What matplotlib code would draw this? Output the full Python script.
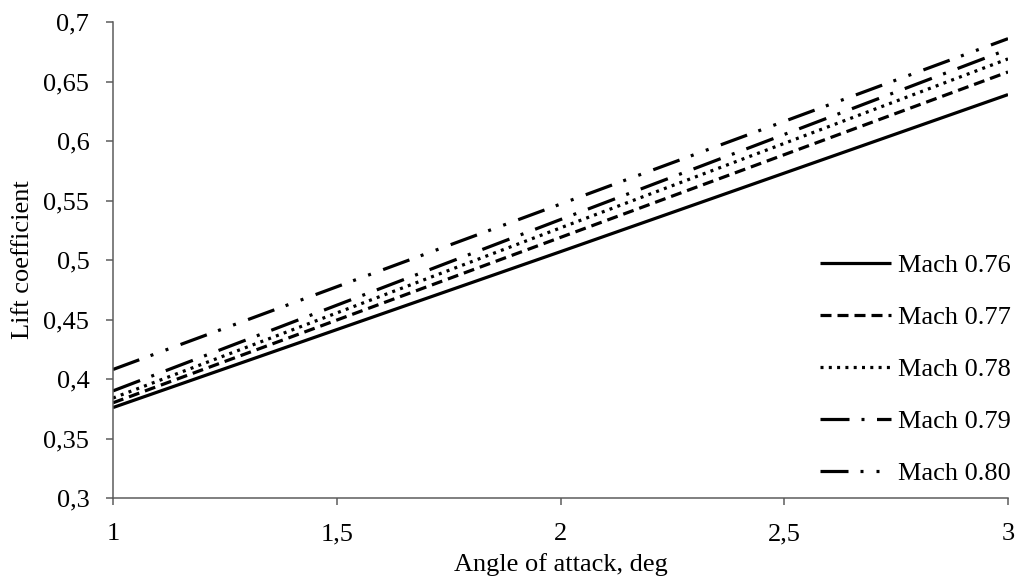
import matplotlib
matplotlib.use("Agg")
import matplotlib.pyplot as plt

# lift coefficient vs angle of attack
alpha = [1, 2, 3]
cl_076 = [0.376, 0.507, 0.639]
cl_077 = [0.380, 0.519, 0.658]
cl_078 = [0.384, 0.527, 0.669]
cl_079 = [0.390, 0.534, 0.677]
cl_080 = [0.408, 0.547, 0.686]

labels = ["Mach 0.76", "Mach 0.77", "Mach 0.78", "Mach 0.79", "Mach 0.80"]
yticks = [0.3, 0.35, 0.4, 0.45, 0.5, 0.55, 0.6, 0.65, 0.7]
xticks = [1, 1.5, 2, 2.5, 3]

plt.rcParams["font.family"] = ["Liberation Serif", "DejaVu Serif"]
plt.rcParams["font.size"] = 19
plt.rcParams["lines.scale_dashes"] = False

px = 0.72  # pixels -> points at dpi 100
styles = [
    "-",
    (0, (11 * px, 6 * px)),
    (0, (3 * px, 5.3 * px)),
    (0, (29 * px, 12 * px, 3 * px, 12.5 * px)),
    (0, (28 * px, 12 * px, 3 * px, 13 * px, 3 * px, 13 * px)),
]

fig = plt.figure(figsize=(10.15, 5.82), dpi=100)
ax = fig.add_axes([113 / 1015, 84 / 582, 895 / 1015, 476 / 582])

for ys, ls, lab in zip([cl_076, cl_077, cl_078, cl_079, cl_080], styles, labels):
    ax.plot(alpha, ys, color="black", lw=3.2 * px, linestyle=ls, label=lab,
            solid_capstyle="butt", dash_capstyle="butt")

ax.set_xlim(1, 3)
ax.set_ylim(0.3, 0.7)
ax.set_xticks(xticks)
ax.set_yticks(yticks)
ax.set_xticklabels([f"{v:g}".replace(".", ",") for v in xticks])
ax.set_yticklabels([f"{v:g}".replace(".", ",") for v in yticks])

for s in ["top", "right"]:
    ax.spines[s].set_visible(False)
for s in ["left", "bottom"]:
    ax.spines[s].set_color("#595959")
    ax.spines[s].set_linewidth(1.5 * px)
ax.tick_params(axis="both", direction="out", length=7 * px, width=1.5 * px,
               color="#595959", labelcolor="black")
ax.tick_params(axis="y", pad=12)
ax.tick_params(axis="x", pad=13)

ax.set_xlabel("Angle of attack, deg", labelpad=6)
ax.set_ylabel("Lift coefficient", labelpad=7)

ax.legend(loc="center left", bbox_to_anchor=(0.79, 0.27), frameon=False,
          handlelength=2.7, handletextpad=0.27, labelspacing=1.08,
          borderpad=0, borderaxespad=0)

fig.savefig("out.png", dpi=100)
